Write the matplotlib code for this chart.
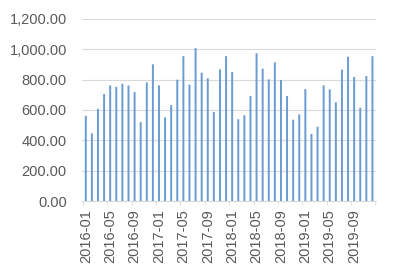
import numpy as np
import matplotlib.pyplot as plt
from matplotlib.ticker import FuncFormatter

################################
# Data
################################
months = [f"{y}-{m:02d}" for y in range(2016, 2020) for m in range(1, 13)]
values = [562, 446, 608, 705, 762, 753, 773, 762, 718, 520, 782, 901,
          762, 551, 632, 800, 955, 767, 1008, 846, 809, 587, 868, 955,
          850, 539, 565, 692, 974, 872, 802, 914, 798, 692, 536, 571,
          738, 442, 490, 762, 736, 651, 866, 951, 818, 615, 824, 955]

################################
# Plot
################################
plt.rcParams['font.family'] = ['Liberation Sans', 'DejaVu Sans']
fig = plt.figure(figsize=(3.93, 2.75), dpi=100)
ax = fig.add_axes([0.209, 0.269, 0.748, 0.662])

x = np.arange(len(months))
ax.bar(x, values, width=0.32, color='#6a9bd2', zorder=3, snap=False)

ax.set_xlim(-0.6, len(months) - 0.4)
ax.set_ylim(0, 1200)
ax.set_yticks(np.arange(0, 1201, 200))
ax.yaxis.set_major_formatter(FuncFormatter(lambda v, p: f"{v:,.2f}"))
ax.grid(axis='y', color='#d9d9d9', linewidth=0.8, zorder=0)

ax.set_xticks(x[::4])
ax.set_xticklabels(months[::4], rotation=90)
ax.set_xticks(np.arange(-0.5, len(months), 4), minor=True)

for s in ['top', 'right', 'left']:
    ax.spines[s].set_visible(False)
ax.spines['bottom'].set_color('#d9d9d9')
ax.tick_params(axis='y', length=0, labelsize=10.5, colors='#595959', pad=11)
ax.tick_params(axis='x', which='major', length=0, labelsize=10.5, colors='#595959', pad=6)
ax.tick_params(axis='x', which='minor', length=3, color='#d9d9d9')

fig.savefig('out.png', dpi=100)
